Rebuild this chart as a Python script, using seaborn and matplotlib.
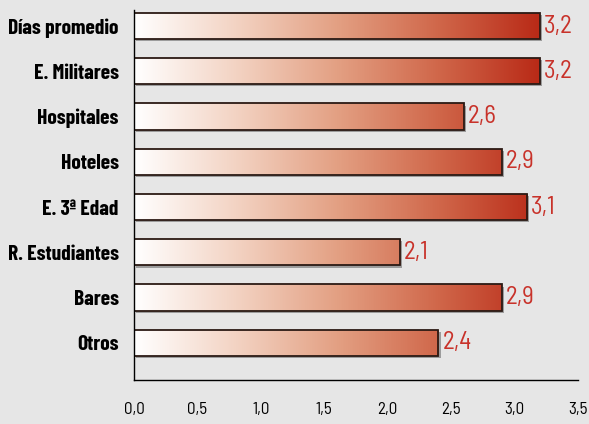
import matplotlib
matplotlib.use("Agg")
import matplotlib.pyplot as plt
import seaborn as sns
import numpy as np
import pandas as pd
from matplotlib.colors import LinearSegmentedColormap
from matplotlib.patches import Rectangle
from matplotlib import patheffects as pe
from matplotlib.font_manager import FontProperties

categories = ["Días promedio", "E. Militares", "Hospitales", "Hoteles",
              "E. 3ª Edad", "R. Estudiantes", "Bares", "Otros"]
values = [3.2, 3.2, 2.6, 2.9, 3.1, 2.1, 2.9, 2.4]
xticks = [0.0, 0.5, 1.0, 1.5, 2.0, 2.5, 3.0, 3.5]

sns.set_theme(style="white")
plt.rcParams["font.family"] = ["Barlow Semi Condensed", "Roboto Condensed", "DejaVu Sans"]

fp_lab0 = FontProperties(family=["Barlow Condensed", "Roboto Condensed", "DejaVu Sans"],
                         weight="bold")
fp_tick0 = FontProperties(family=["Barlow Semi Condensed", "Roboto Condensed", "DejaVu Sans"],
                          weight="normal")
fp_val0 = FontProperties(family=["Barlow Semi Condensed", "Roboto Condensed", "DejaVu Sans"],
                         weight="normal")

bg = "#e6e6e6"
fig = plt.figure(figsize=(5.89, 4.24), dpi=100, facecolor=bg)
ax = fig.add_axes([0.2275, 0.1038, 0.9813 - 0.2275, 0.976 - 0.1038])
ax.set_facecolor(bg)
renderer = fig.canvas.get_renderer()

def fit(fp, text, target_px, maxsize):
    f = fp.copy(); f.set_size(10)
    t = fig.text(0, 0, text, fontproperties=f)
    w = t.get_window_extent(renderer).width
    t.remove()
    f.set_size(min(maxsize, 10 * target_px / w))
    return f

fp_lab = fit(fp_lab0, "R. Estudiantes", 111, 16)
fp_tick = fit(fp_tick0, "0,0", 21, 13)
fp_val = fit(fp_val0, "3,2", 30, 18)

df = pd.DataFrame({"cat": categories, "val": values})
sns.barplot(data=df, x="val", y="cat", orient="h", ax=ax, width=0.58,
            facecolor="none", edgecolor="none", linewidth=0)

cmap = LinearSegmentedColormap.from_list(
    "grad", [(0, "#ffffff"), (0.25, "#f3d3c3"), (0.5, "#e3a083"),
             (0.75, "#d0674a"), (1.0, "#b92a17")])
grad = np.linspace(0, 1, 256).reshape(1, -1)
vmax = max(values)
for p in list(ax.patches):
    x0, y0 = p.get_x(), p.get_y()
    w, h = p.get_width(), p.get_height()
    p.set_zorder(1)
    p.set_path_effects([pe.SimplePatchShadow(offset=(1.5, -1.5),
                                             shadow_rgbFace="#8a8a8a", alpha=0.8)])
    im = ax.imshow(grad, cmap=cmap, aspect="auto",
                   extent=(0, vmax, y0 + h, y0), zorder=1.5,
                   interpolation="bilinear")
    clip = Rectangle((x0, y0), w, h, transform=ax.transData, facecolor="none")
    im.set_clip_path(clip)
    ax.add_patch(Rectangle((x0, y0), w, h, facecolor="none",
                           edgecolor="#2b1a14", linewidth=1.3, zorder=2))

for i, v in enumerate(values):
    ax.text(v + 0.03, i, f"{v:.1f}".replace(".", ","), va="center", ha="left",
            color="#c8322a", fontproperties=fp_val)

ax.set_xlim(0, 3.5)
ax.set_ylim(7.82, -0.35)
ax.set_xticks(xticks)
ax.set_xticklabels([f"{t:.1f}".replace(".", ",") for t in xticks])
for lab in ax.get_xticklabels():
    lab.set_fontproperties(fp_tick)
    lab.set_color("black")
ax.set_xlabel("")
ax.set_ylabel("")
ax.tick_params(axis="x", direction="out", length=4, width=1, color="black", pad=12)
ax.tick_params(axis="y", length=0, pad=11)
for lab in ax.get_yticklabels():
    lab.set_fontproperties(fp_lab)
    lab.set_color("black")
for s in ["top", "right"]:
    ax.spines[s].set_visible(False)
for s in ["left", "bottom"]:
    ax.spines[s].set_color("black")
    ax.spines[s].set_linewidth(1)

fig.savefig("out.png", dpi=100, facecolor=bg)
